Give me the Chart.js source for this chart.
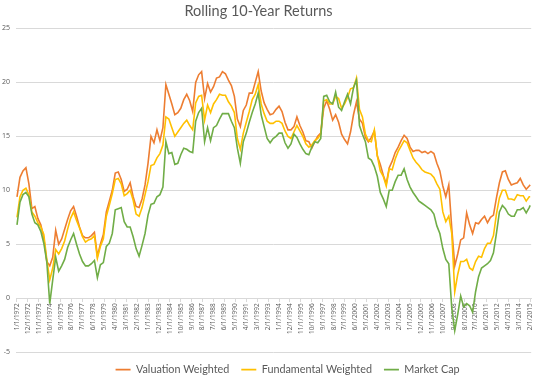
<!DOCTYPE html>
<html><head><meta charset="utf-8">
<script src="https://cdn.jsdelivr.net/npm/chart.js@4/dist/chart.umd.min.js"></script>
<style>html,body{margin:0;padding:0;background:#fff;}</style>
</head><body>
<canvas id="c" width="540" height="383"></canvas>
<script>
// Shown x-axis labels (every 11th month, starting 1/1/1972)
const tickLabels = ["1/1/1972","12/1/1972","11/1/1973","10/1/1974","9/1/1975","8/1/1976","7/1/1977","6/1/1978","5/1/1979","4/1/1980","3/1/1981","2/1/1982","1/1/1983","12/1/1983","11/1/1984","10/1/1985","9/1/1986","8/1/1987","7/1/1988","6/1/1989","5/1/1990","4/1/1991","3/1/1992","2/1/1993","1/1/1994","12/1/1994","11/1/1995","10/1/1996","9/1/1997","8/1/1998","7/1/1999","6/1/2000","5/1/2001","4/1/2002","3/1/2003","2/1/2004","1/1/2005","12/1/2005","11/1/2006","10/1/2007","9/1/2008","8/1/2009","7/1/2010","6/1/2011","5/1/2012","4/1/2013","3/1/2014","2/1/2015"];
const tickStep = 11;

// Sampled months (months since 1/1/1972)
const monthIdx = [0,3,6,9,12,15,18,21,24,27,30,33,36,39,42,45,48,51,54,57,60,63,66,69,72,75,78,81,84,87,90,93,96,99,102,105,108,111,114,117,120,123,126,129,132,135,138,141,144,147,150,153,156,159,162,165,168,171,174,177,180,183,186,189,192,195,198,201,204,207,210,213,216,219,222,225,228,231,234,237,240,243,246,249,252,255,258,261,264,267,270,273,276,279,282,285,288,291,294,297,300,303,306,309,312,315,318,321,324,327,330,333,336,339,342,345,348,351,354,357,360,363,366,369,372,375,378,381,384,387,390,393,396,399,402,405,408,411,414,417,420,423,426,429,432,435,438,441,444,447,450,453,456,459,462,465,468,471,474,477,480,483,486,489,492,495,498,501,504,507,510,513,516,517];

const valuationWeighted = [9.4,11.2,11.8,12.1,10.6,8.3,8.5,7.4,6.8,5.6,3.4,3.0,3.8,6.3,5.0,5.5,6.4,7.3,8.1,8.5,7.6,6.6,5.8,5.6,5.6,5.8,6.1,3.9,5.0,5.9,8.0,9.0,10.0,11.6,11.7,11.0,9.9,10.1,10.7,9.4,8.5,8.4,9.2,10.5,12.5,15.0,14.4,15.6,14.6,15.8,19.8,18.9,18.0,17.0,17.2,17.6,18.4,18.9,18.3,17.3,20.0,20.7,21.0,18.5,19.9,19.1,19.6,20.4,20.5,21.0,20.8,20.2,19.7,18.7,16.6,15.9,17.4,17.9,19.0,19.0,20.0,21.0,19.2,18.1,17.5,17.0,17.1,17.5,17.8,17.3,16.3,15.6,15.6,15.9,16.8,16.0,15.4,14.6,14.5,13.9,14.5,15.0,15.3,17.6,18.3,17.5,16.5,17.0,16.3,15.2,14.7,14.3,15.4,17.0,18.2,16.6,16.2,14.9,14.5,14.9,15.5,13.2,12.4,11.4,10.6,12.1,12.7,13.5,14.0,14.6,15.1,14.8,14.0,13.6,13.7,13.7,13.5,13.6,13.4,13.6,13.4,12.5,11.8,10.4,9.4,10.5,6.5,3.0,4.1,5.4,5.6,7.9,6.8,6.0,7.0,6.9,7.3,7.6,7.0,7.5,7.7,9.3,10.7,11.7,11.8,11.0,10.5,10.6,10.7,11.1,10.5,10.1,10.4,10.5];

const fundamentalWeighted = [7.5,9.4,10.0,10.2,9.6,8.0,7.6,7.0,6.6,5.9,3.6,1.7,2.8,4.5,4.1,4.6,5.3,6.4,7.4,8.0,7.2,6.5,5.7,5.2,5.4,5.5,5.8,3.7,4.8,5.5,7.6,8.6,9.7,11.0,11.1,10.6,9.5,9.7,10.0,9.1,7.8,7.6,8.4,9.6,10.8,12.3,12.4,13.0,13.4,14.2,16.8,16.6,15.8,15.0,15.4,15.8,16.2,16.5,16.0,15.6,18.1,18.7,18.8,16.5,17.9,17.2,18.0,18.4,18.9,18.8,18.8,18.2,17.8,17.2,14.8,13.8,15.3,16.3,17.3,18.4,18.9,19.8,18.0,17.1,16.4,16.2,16.2,16.4,16.4,16.2,15.5,15.0,14.8,15.4,16.0,15.5,15.0,14.3,14.0,14.2,14.6,14.8,15.2,18.3,18.4,18.0,18.0,18.7,18.5,17.6,18.0,18.6,19.4,19.5,20.4,17.5,16.8,15.2,14.6,14.5,15.6,13.2,11.8,11.3,10.4,12.0,11.9,12.9,13.6,14.1,14.6,14.4,13.7,13.0,12.6,12.3,11.9,11.7,11.6,11.5,11.2,10.6,10.1,8.0,7.1,7.6,6.0,0.6,2.2,3.4,3.4,3.6,2.8,2.6,3.4,3.9,3.8,4.6,5.1,5.1,5.8,7.8,9.3,10.0,10.0,9.2,9.2,9.1,9.6,9.5,9.5,9.0,9.4,9.4];

const marketCap = [6.8,8.9,9.6,9.8,9.4,7.8,7.0,6.8,6.2,5.1,3.4,-0.5,1.7,3.8,2.5,3.0,3.6,4.7,5.4,6.0,5.0,4.1,3.4,3.0,3.0,3.2,3.5,1.9,3.1,3.3,4.8,5.1,6.0,8.2,8.3,8.4,7.1,6.6,6.6,5.7,4.6,3.9,4.9,6.0,7.7,8.7,8.8,9.4,9.6,10.3,14.5,13.4,13.5,12.4,12.5,13.3,13.9,13.8,13.6,13.5,16.4,17.2,17.6,14.5,15.8,14.6,15.8,16.0,16.6,17.1,17.1,17.1,16.4,15.8,13.9,12.5,14.5,15.3,16.3,17.2,18.0,19.0,17.0,15.9,14.8,14.4,14.8,15.0,15.3,15.3,14.4,13.9,14.3,15.2,14.9,14.3,13.8,13.4,13.3,14.0,14.5,14.4,14.8,18.7,18.8,18.2,18.0,19.1,17.7,17.4,18.2,18.9,18.0,19.5,20.2,16.0,15.2,14.5,13.0,12.8,12.2,11.3,9.8,9.2,8.5,10.0,10.0,10.8,11.4,11.4,12.0,11.0,10.3,9.8,9.4,9.0,8.8,8.6,8.4,8.2,7.8,6.7,6.0,4.6,3.6,3.2,-0.9,-3.0,-1.5,0.2,-0.8,-0.5,-0.7,-1.3,0.6,2.0,2.8,3.0,3.2,3.5,4.2,6.0,8.0,8.6,8.3,7.8,7.6,7.6,8.2,8.2,8.4,7.9,8.4,8.6];

const seriesNames = ["Valuation Weighted","Fundamental Weighted","Market Cap"];
const seriesColors = ["#ED7D31","#FFC000","#70AD47"];

const toPoints = arr => monthIdx.map((m, k) => ({x: m, y: arr[k]}));
const FONT = "Lato, 'Open Sans', 'Liberation Sans', sans-serif";
const TICKFONT = "'Open Sans', 'Liberation Sans', sans-serif";

// nudge title / legend horizontally to match the original placement
const nudgePlugin = {
  id: 'nudge',
  afterLayout(chart) {
    const t = chart.titleBlock;
    if (t) { t.left -= 9; t.right -= 9; }
    const l = chart.legend;
    if (l) { l.left += 14; l.right += 14; }
  }
};

new Chart(document.getElementById('c'), {
  type: 'line',
  plugins: [nudgePlugin],
  data: {
    datasets: [valuationWeighted, fundamentalWeighted, marketCap].map((arr, k) => ({
      label: seriesNames[k],
      data: toPoints(arr),
      borderColor: seriesColors[k],
      backgroundColor: seriesColors[k],
      borderWidth: 1.6,
      pointRadius: 0,
      tension: 0,
      order: 3 - k
    }))
  },
  options: {
    responsive: false,
    animation: false,
    devicePixelRatio: 1,
    layout: { padding: { left: 2, right: 7, top: 0, bottom: -2 } },
    plugins: {
      title: {
        display: true,
        text: 'Rolling 10-Year Returns',
        color: '#595959',
        font: { family: FONT, size: 14.5, weight: 'normal' },
        padding: { top: 3, bottom: 8 }
      },
      legend: {
        position: 'bottom',
        fullSize: false,
        labels: {
          usePointStyle: true,
          pointStyle: 'line',
          pointStyleWidth: 15,
          color: '#595959',
          font: { family: FONT, size: 10.8 },
          padding: 12,
          sort: (a, b) => a.datasetIndex - b.datasetIndex
        }
      },
      tooltip: { enabled: false }
    },
    scales: {
      x: {
        type: 'linear',
        min: -1,
        max: 518,
        position: { y: 0 },
        afterFit: s => { s.height = 0; },
        afterBuildTicks: s => { s.ticks = tickLabels.map((t, k) => ({ value: k * tickStep })); },
        ticks: {
          autoSkip: false,
          maxRotation: 90,
          minRotation: 90,
          padding: 2,
          color: '#595959',
          font: { family: TICKFONT, size: 6.5 },
          callback: v => tickLabels[Math.round(v / tickStep)]
        },
        grid: { drawOnChartArea: false, drawTicks: true, tickLength: 3, color: '#D9D9D9' },
        border: { color: '#D9D9D9' }
      },
      y: {
        min: -5,
        max: 25,
        afterFit: s => { s.width = 14; },
        ticks: { stepSize: 5, padding: 6, color: '#595959', font: { family: TICKFONT, size: 7 } },
        grid: { color: '#D9D9D9', drawTicks: false },
        border: { display: false }
      }
    }
  }
});
</script>
</body></html>
